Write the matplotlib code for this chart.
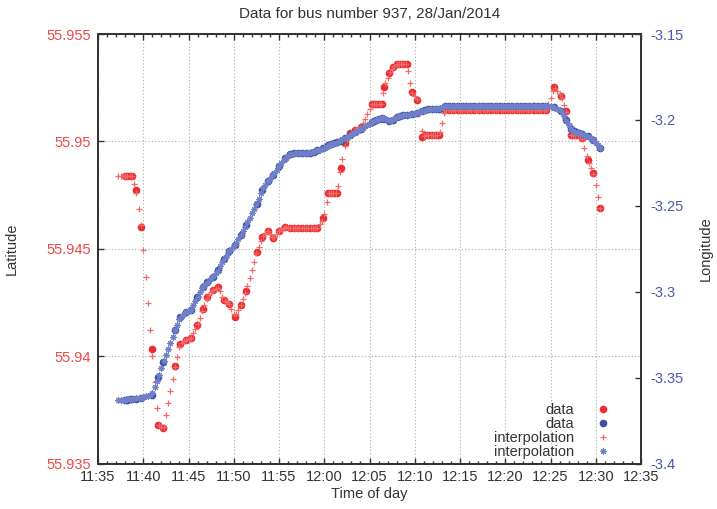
import matplotlib
matplotlib.use("Agg")
import matplotlib.pyplot as plt
import matplotlib.dates as mdates
from matplotlib.ticker import MultipleLocator, FuncFormatter
import pandas as pd

plt.rcParams['font.family'] = ['Liberation Sans', 'DejaVu Sans']

# ---------------- data ----------------
DAY = "2014-01-28 "
title = "Data for bus number 937, 28/Jan/2014"

data_time = [
    "11:37:56", "11:38:12", "11:38:29", "11:38:45", "11:39:12", "11:39:47", "11:40:56", "11:41:40",
    "11:42:13", "11:43:31", "11:44:04", "11:44:43", "11:45:15", "11:45:58", "11:46:34", "11:47:05",
    "11:47:40", "11:48:18", "11:48:55", "11:49:31", "11:50:08", "11:50:46", "11:51:21", "11:52:32",
    "11:53:09", "11:53:45", "11:54:22", "11:55:00", "11:55:40", "11:56:13", "11:56:39", "11:57:06",
    "11:57:33", "11:57:59", "11:58:26", "11:58:52", "11:59:15", "11:59:54", "12:00:27", "12:00:45",
    "12:01:05", "12:01:23", "12:01:49", "12:02:18", "12:02:54", "12:03:27", "12:04:04", "12:05:15",
    "12:05:30", "12:05:46", "12:06:03", "12:06:21", "12:06:36", "12:07:11", "12:07:38", "12:08:00",
    "12:08:22", "12:08:44", "12:09:07", "12:09:40", "12:10:17", "12:10:50", "12:11:08", "12:11:31",
    "12:11:54", "12:12:18", "12:12:41",
    "12:13:20", "12:13:48", "12:14:16", "12:14:44", "12:15:12", "12:15:40", "12:16:08", "12:16:36",
    "12:17:04", "12:17:32", "12:18:00", "12:18:28", "12:18:56", "12:19:24", "12:19:52", "12:20:20",
    "12:20:48", "12:21:16", "12:21:44", "12:22:12", "12:22:40", "12:23:08", "12:23:36", "12:24:04",
    "12:24:32",
    "12:25:25", "12:26:10", "12:26:43", "12:27:13", "12:27:33", "12:27:52", "12:28:12", "12:28:29",
    "12:29:07", "12:29:44", "12:30:30",
]

data_lat = (
    [55.94839, 55.94839, 55.94839, 55.94839, 55.94774, 55.94600, 55.94032, 55.93679,
     55.93664, 55.93954, 55.94056, 55.94075, 55.94086, 55.94145, 55.94218, 55.94277,
     55.94308, 55.94320, 55.94261, 55.94243, 55.94184, 55.94238, 55.94303, 55.94483,
     55.94556, 55.94584, 55.94549, 55.94584, 55.94603, 55.94595, 55.94595, 55.94595,
     55.94595, 55.94595, 55.94595, 55.94595, 55.94595, 55.94642, 55.94761, 55.94761,
     55.94761, 55.94761, 55.94875, 55.94991, 55.95039, 55.95053, 55.95067, 55.95174,
     55.95174, 55.95174, 55.95174, 55.95174, 55.95255, 55.95317, 55.95348, 55.95360,
     55.95360, 55.95360, 55.95360, 55.95231, 55.95193, 55.95022, 55.95030, 55.95030,
     55.95030, 55.95030, 55.95030]
    + [55.95146] * 25
    + [55.95255, 55.95213, 55.95143, 55.95030, 55.95030, 55.95030, 55.95030, 55.95014,
       55.94913, 55.94854, 55.94688]
)

data_lon = (
    [-3.3628, -3.3628, -3.3625, -3.3622, -3.3622, -3.3616, -3.3601, -3.3497,
     -3.3409, -3.3223, -3.3147, -3.3118, -3.3104, -3.3031, -3.2973, -3.2944,
     -3.2914, -3.2874, -3.2810, -3.2763, -3.2728, -3.2670, -3.2612, -3.2487,
     -3.2408, -3.2356, -3.2321, -3.2268, -3.2222, -3.2198, -3.2195, -3.2195,
     -3.2195, -3.2193, -3.2190, -3.2184, -3.2178, -3.2164, -3.2149, -3.2143,
     -3.2137, -3.2131, -3.2120, -3.2105, -3.2088, -3.2070, -3.2053, -3.2012,
     -3.2006, -3.2001, -3.1992, -3.1989, -3.1992, -3.2006, -3.2001, -3.1983,
     -3.1977, -3.1974, -3.1971, -3.1966, -3.1957, -3.1948, -3.1945, -3.1939,
     -3.1937, -3.1934, -3.1934]
    + [-3.1919] * 25
    + [-3.1925, -3.1948, -3.2001, -3.2053, -3.2067, -3.2073, -3.2076, -3.2082,
       -3.2094, -3.2117, -3.2161]
)

# interpolation output, one value every 15 s
interp_start, interp_end, interp_step = "11:37:15", "12:30:30", "15s"

interp_lat = (
    [55.94839, 55.94839, 55.94839, 55.94839, 55.94839, 55.94839, 55.94839, 55.94803, 55.94759, 55.94684,
     55.94610, 55.94493, 55.94370, 55.94246, 55.94122, 55.94000, 55.93880, 55.93759, 55.93677, 55.93670,
     55.93671, 55.93727, 55.93783, 55.93839, 55.93894, 55.93950, 55.93997, 55.94044, 55.94061, 55.94069,
     55.94076, 55.94081, 55.94086, 55.94107, 55.94127, 55.94149, 55.94179, 55.94210, 55.94239, 55.94267,
     55.94286, 55.94299, 55.94310, 55.94314, 55.94319, 55.94301, 55.94277, 55.94258, 55.94251, 55.94243,
     55.94221, 55.94197, 55.94194, 55.94215, 55.94236, 55.94264, 55.94292, 55.94326, 55.94364, 55.94402,
     55.94440, 55.94478, 55.94509, 55.94538, 55.94561, 55.94572, 55.94584, 55.94570, 55.94556, 55.94556,
     55.94570, 55.94584, 55.94591, 55.94598, 55.94602, 55.94598, 55.94595, 55.94595, 55.94595, 55.94595,
     55.94595, 55.94595, 55.94595, 55.94595, 55.94595, 55.94595, 55.94595, 55.94595, 55.94595, 55.94613,
     55.94631, 55.94664, 55.94718, 55.94761, 55.94761, 55.94761, 55.94761, 55.94792, 55.94857, 55.94919,
     55.94979, 55.95007, 55.95027, 55.95041, 55.95048, 55.95054, 55.95060, 55.95065, 55.95084, 55.95106,
     55.95129, 55.95151, 55.95174, 55.95174, 55.95174, 55.95174, 55.95174, 55.95223, 55.95271, 55.95297,
     55.95322, 55.95339, 55.95352, 55.95360, 55.95360, 55.95360, 55.95360, 55.95360, 55.95329, 55.95270,
     55.95226, 55.95210, 55.95195, 55.95126, 55.95048, 55.95026, 55.95030, 55.95030, 55.95030, 55.95030,
     55.95030, 55.95030, 55.95042, 55.95086, 55.95131]
    + [55.95146] * 45
    + [55.95173, 55.95204, 55.95234, 55.95250, 55.95236, 55.95222, 55.95202, 55.95171, 55.95136, 55.95079,
       55.95030, 55.95030, 55.95030, 55.95030, 55.95027, 55.95011, 55.94971, 55.94932, 55.94900, 55.94876,
       55.94850, 55.94796, 55.94742, 55.94688]
)

interp_lon = (
    [-3.3628, -3.3628, -3.3628, -3.3628, -3.3627, -3.3625, -3.3622, -3.3622, -3.3621, -3.3619,
     -3.3616, -3.3613, -3.3610, -3.3607, -3.3604, -3.3592, -3.3556, -3.3521, -3.3484, -3.3444,
     -3.3404, -3.3368, -3.3333, -3.3297, -3.3261, -3.3225, -3.3191, -3.3156, -3.3139, -3.3128,
     -3.3117, -3.3111, -3.3104, -3.3078, -3.3053, -3.3028, -3.3004, -3.2980, -3.2963, -3.2949,
     -3.2935, -3.2923, -3.2909, -3.2893, -3.2877, -3.2853, -3.2827, -3.2804, -3.2784, -3.2764,
     -3.2750, -3.2736, -3.2717, -3.2695, -3.2672, -3.2647, -3.2622, -3.2596, -3.2570, -3.2543,
     -3.2517, -3.2490, -3.2459, -3.2427, -3.2399, -3.2378, -3.2356, -3.2342, -3.2328, -3.2310,
     -3.2289, -3.2268, -3.2251, -3.2234, -3.2218, -3.2208, -3.2198, -3.2196, -3.2195, -3.2195,
     -3.2195, -3.2195, -3.2194, -3.2193, -3.2191, -3.2189, -3.2186, -3.2182, -3.2178, -3.2173,
     -3.2167, -3.2161, -3.2155, -3.2148, -3.2143, -3.2139, -3.2134, -3.2128, -3.2122, -3.2114,
     -3.2107, -3.2099, -3.2092, -3.2085, -3.2077, -3.2069, -3.2062, -3.2055, -3.2047, -3.2038,
     -3.2029, -3.2021, -3.2012, -3.2006, -3.2001, -3.1994, -3.1990, -3.1991, -3.1996, -3.2002,
     -3.2005, -3.2003, -3.1995, -3.1983, -3.1979, -3.1976, -3.1974, -3.1972, -3.1970, -3.1968,
     -3.1965, -3.1961, -3.1958, -3.1954, -3.1949, -3.1946, -3.1943, -3.1939, -3.1938, -3.1936,
     -3.1934, -3.1934, -3.1933, -3.1927, -3.1921]
    + [-3.1919] * 45
    + [-3.1921, -3.1922, -3.1924, -3.1928, -3.1935, -3.1943, -3.1956, -3.1980, -3.2005, -3.2031,
       -3.2054, -3.2065, -3.2071, -3.2074, -3.2077, -3.2082, -3.2087, -3.2092, -3.2099, -3.2108,
       -3.2118, -3.2132, -3.2147, -3.2161]
)

x_range = ("11:35", "12:35")
lat_range = (55.935, 55.955)
lon_range = (-3.4, -3.15)

# ---------------- style ----------------
RED = '#ee2c30'
RED_INT = '#f06a6a'
BLUE = '#3b4fa6'
BLUE_INT = '#6f80c6'
LEFT_TXT = '#f04848'
RIGHT_TXT = '#4a5aa8'
DARK = '#333333'
FS = 10.5

t_data = pd.to_datetime([DAY + s for s in data_time])
t_int = pd.date_range(DAY + interp_start, DAY + interp_end, freq=interp_step)
assert len(t_int) == len(interp_lat) == len(interp_lon)
assert len(t_data) == len(data_lat) == len(data_lon)

fig = plt.figure(figsize=(7.17, 5.09), dpi=100)
ax = fig.add_axes([98 / 717, 1 - 463.5 / 509, 543 / 717, 429.5 / 509])
ax2 = ax.twinx()

ax.set_xlim(pd.Timestamp(DAY + x_range[0]), pd.Timestamp(DAY + x_range[1]))
ax.set_ylim(*lat_range)
ax2.set_ylim(*lon_range)

# draw in gnuplot order: red dots, blue dots, red +, blue stars
h1, = ax.plot(t_data, data_lat, 'o', color=RED, ms=5.5, mew=0, label='data')
h2, = ax.plot(t_data, data_lon, 'o', color=BLUE, ms=5.5, mew=0, label='data',
              transform=ax2.transData)
h3, = ax.plot(t_int, interp_lat, '+', color=RED_INT, ms=5, mew=0.9, label='interpolation')
h4, = ax.plot(t_int, interp_lon, ls='none', marker=(8, 2, 0), color=BLUE_INT, ms=4.5, mew=0.8,
              label='interpolation', transform=ax2.transData)

ax.set_xlim(pd.Timestamp(DAY + x_range[0]), pd.Timestamp(DAY + x_range[1]))
ax.set_ylim(*lat_range)
ax2.set_ylim(*lon_range)

ax.xaxis.set_major_locator(mdates.MinuteLocator(byminute=range(0, 60, 5)))
ax.xaxis.set_minor_locator(mdates.MinuteLocator())
ax.xaxis.set_major_formatter(mdates.DateFormatter('%H:%M'))
ax.yaxis.set_major_locator(MultipleLocator(0.005))
ax.yaxis.set_major_formatter(FuncFormatter(lambda v, p: f"{v:g}"))
ax2.yaxis.set_major_locator(MultipleLocator(0.05))
ax2.yaxis.set_major_formatter(FuncFormatter(lambda v, p: f"{v:g}"))

ax.tick_params(axis='x', which='major', direction='in', top=True, bottom=True,
               length=4.5, width=1, color=DARK, labelcolor=DARK, labelsize=FS, pad=5)
ax.tick_params(axis='x', which='minor', direction='in', top=True, bottom=True,
               length=2.5, width=1, color=DARK)
ax.tick_params(axis='y', which='major', direction='in', left=True, right=False,
               length=4.5, width=1, color=DARK, labelcolor=LEFT_TXT, labelsize=FS, pad=5)
ax2.tick_params(axis='y', which='major', direction='in', right=True, left=False,
                length=4.5, width=1, color=DARK, labelcolor=RIGHT_TXT, labelsize=FS, pad=7)

for a in (ax, ax2):
    for s in a.spines.values():
        s.set_color(DARK)
        s.set_linewidth(1.3)

ax.grid(True, which='major', axis='both', color='#aaaaaa', linestyle=(0, (1, 2)), linewidth=0.8)
ax.set_axisbelow(True)

ax.set_xlabel("Time of day", fontsize=FS, color=DARK)
ax.xaxis.set_label_coords(0.5, -0.0547)
ax.set_ylabel("Latitude", fontsize=FS, color=DARK)
ax.yaxis.set_label_coords(-0.1455, 0.5)
ax2.set_ylabel("Longitude", fontsize=FS, color=DARK)
ax2.yaxis.set_label_coords(1.1068, 0.5)
ax.set_title(title, fontsize=11, color=DARK, y=1.0466, va='center', pad=0)

ax2.legend([h1, h2, h3, h4], ['data', 'data', 'interpolation', 'interpolation'],
           loc='lower right', bbox_to_anchor=(0.946, 0.0105), frameon=False,
           markerfirst=False, handlelength=1.2, handletextpad=1.39, labelspacing=0.0,
           borderpad=0, borderaxespad=0, fontsize=FS, labelcolor=DARK)

fig.savefig("out.png", dpi=100)
